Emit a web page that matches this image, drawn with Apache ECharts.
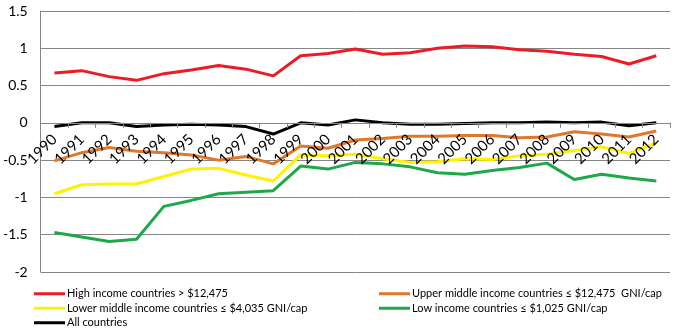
<!DOCTYPE html>
<html><head><meta charset="utf-8">
<script src="https://cdn.jsdelivr.net/npm/echarts@6/dist/echarts.min.js"></script>
<style>html,body{margin:0;padding:0;background:#fff}#c{width:676px;height:332px}</style>
</head><body><div id="c"></div>
<script>
var years = ['1990','1991','1992','1993','1994','1995','1996','1997','1998','1999','2000','2001','2002','2003','2004','2005','2006','2007','2008','2009','2010','2011','2012'];
var highIncome = [0.67,0.70,0.62,0.57,0.66,0.71,0.77,0.72,0.63,0.90,0.93,0.99,0.92,0.94,1.00,1.03,1.02,0.98,0.96,0.92,0.89,0.79,0.90];
var upperMiddle = [-0.51,-0.40,-0.33,-0.38,-0.40,-0.43,-0.50,-0.45,-0.55,-0.31,-0.34,-0.23,-0.21,-0.18,-0.18,-0.17,-0.17,-0.20,-0.19,-0.12,-0.15,-0.19,-0.11];
var lowerMiddle = [-0.95,-0.83,-0.82,-0.82,-0.72,-0.62,-0.61,-0.70,-0.78,-0.43,-0.44,-0.42,-0.48,-0.53,-0.52,-0.48,-0.49,-0.44,-0.42,-0.37,-0.32,-0.41,-0.27];
var lowIncome = [-1.47,-1.53,-1.59,-1.56,-1.12,-1.04,-0.95,-0.93,-0.91,-0.58,-0.62,-0.53,-0.55,-0.59,-0.67,-0.69,-0.64,-0.60,-0.54,-0.76,-0.69,-0.74,-0.78];
var allCountries = [-0.05,0.00,0.00,-0.05,-0.03,-0.02,-0.03,-0.05,-0.15,0.00,-0.03,0.04,0.00,-0.02,-0.02,-0.01,0.00,0.00,0.01,0.00,0.01,-0.04,0.00];
var seriesNames = ['High income countries > $12,475','Upper middle income countries \u2264 $12,475  GNI/cap','Lower middle income countries \u2264 $4,035 GNI/cap','Low income countries \u2264 $1,025 GNI/cap','All countries'];
var colors = ['#ec1c24','#e0782a','#fff200','#1ea84a','#000000'];
var values = [highIncome, upperMiddle, lowerMiddle, lowIncome, allCountries];

var font = 'Lato, "Liberation Sans", Arial, sans-serif';
var chart = echarts.init(document.getElementById('c'), null, {renderer:'canvas'});
function legendOf(left, names){
  return {
    left:left, top:283, height:80, width:320, orient:'vertical',
    itemWidth:31, itemHeight:3, itemGap:3, icon:'rect',
    textStyle:{fontFamily:font, fontSize:11, lineHeight:11.5, color:'#000', padding:[0,0,0,-3]},
    selectedMode:false, data:names
  };
}
var gridTop = 11, gridBottom = 60, H = 332;
var zeroY = gridTop + (1.5/3.5)*(H - gridTop - gridBottom);
chart.setOption({
  animation:false,
  grid:{left:39, right:6, top:gridTop, bottom:gridBottom, containLabel:false},
  legend:[
    legendOf(29, [seriesNames[0],seriesNames[2],seriesNames[4]]),
    legendOf(374, [seriesNames[1],seriesNames[3]])
  ],
  xAxis:{
    type:'category', data:years, boundaryGap:true, position:'bottom', z:10,
    offset: -((H - gridBottom) - zeroY),
    axisLine:{onZero:false, lineStyle:{color:'#868686', width:1}},
    axisTick:{show:true, length:5, lineStyle:{color:'#868686'}},
    axisLabel:{rotate:45, margin:14, fontFamily:font, fontSize:15, color:'#000', interval:0}
  },
  yAxis:{
    type:'value', min:-2, max:1.5, interval:0.5,
    axisLine:{show:true, lineStyle:{color:'#868686'}},
    axisTick:{show:false},
    splitLine:{lineStyle:{color:'#868686', width:1}},
    axisLabel:{fontFamily:font, fontSize:14, color:'#000', margin:13}
  },
  series: values.map(function(v,i){
    return {name:seriesNames[i], type:'line', data:v, showSymbol:false, symbol:'none',
      lineStyle:{color:colors[i], width:3}, itemStyle:{color:colors[i]}, z:2+i};
  })
});
</script></body></html>
